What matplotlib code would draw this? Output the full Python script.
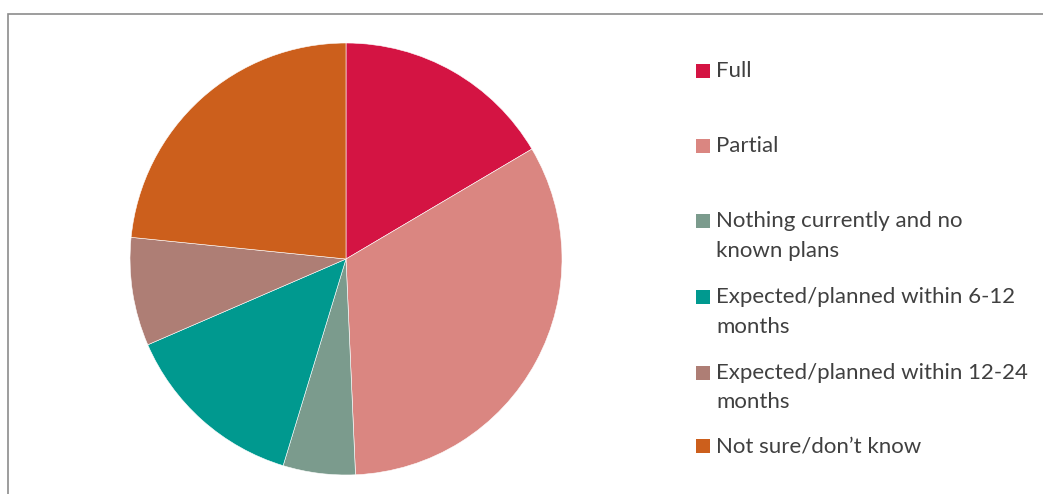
import matplotlib
matplotlib.use('Agg')
import matplotlib.pyplot as plt
from matplotlib.patches import Rectangle

plt.rcParams['font.family'] = ['Lato', 'DejaVu Sans']

# 数据
labels = ['Full', 'Partial', 'Nothing currently and no\nknown plans',
          'Expected/planned within 6-12\nmonths', 'Expected/planned within 12-24\nmonths',
          'Not sure/don\u2019t know']
values = [16.5, 32.8, 5.4, 13.8, 8.1, 23.4]
colors = ['#D41443', '#DA8681', '#7B9B8D', '#00998F', '#AE7E75', '#CC5F1C']

W, H = 1043, 494
fig = plt.figure(figsize=(W / 100, H / 100), dpi=100)

# 外框（只看得到左边和上边）
fig.patches.append(Rectangle((8 / W, -0.1), 1.2, (H - 14) / H + 0.1, transform=fig.transFigure,
                             fill=False, edgecolor='#8C8C8C', linewidth=1.2))

# 饼图
cx, cy, r = 346, 259, 216
ax = fig.add_axes([(cx - r) / W, (H - cy - r) / H, 2 * r / W, 2 * r / H])
ax.pie(values, colors=colors, startangle=90, counterclock=False,
       wedgeprops=dict(edgecolor='white', linewidth=0.4))
ax.set_xlim(-1, 1)
ax.set_ylim(-1, 1)
ax.set_aspect('equal')
ax.axis('off')

# 图例（手动画，每行单独放）
ys = [71, 146, 221, 297, 373, 446]
for lab, c, y in zip(labels, colors, ys):
    fig.patches.append(Rectangle((696 / W, 1 - (y + 7) / H), 14 / W, 14 / H,
                                 transform=fig.transFigure, facecolor=c, edgecolor='none'))
    for i, line in enumerate(lab.split('\n')):
        fig.text(716 / W, 1 - (y + i * 29.5) / H, line, fontsize=16, color='#404040',
                 va='center', ha='left')

fig.savefig('out.png', dpi=100)
